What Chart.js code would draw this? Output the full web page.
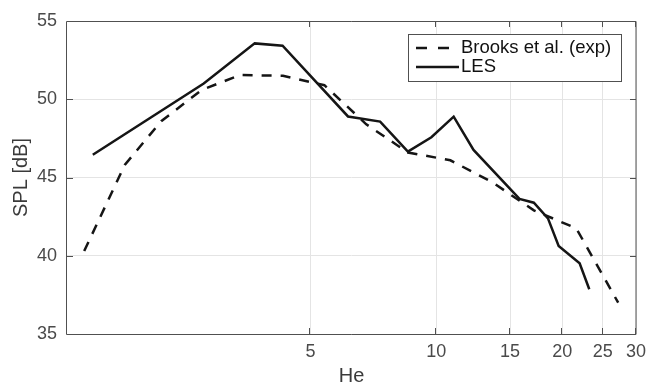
<!DOCTYPE html>
<html>
<head>
<meta charset="utf-8">
<script src="https://cdn.jsdelivr.net/npm/chart.js@4.4.0/dist/chart.umd.min.js"></script>
<style>
  body { margin: 0; background: #fff; }
  canvas { display: block; }
</style>
</head>
<body>
<canvas id="splChart" width="646" height="386"></canvas>
<script>
// values (He = Helmholtz number, SPL in dB)
const brooksHe  = [1.44, 1.80, 2.20, 2.75, 3.40, 4.30, 5.40, 6.80, 8.55, 10.8, 13.6, 17.1, 21.6, 27.2];
const brooksSpl = [40.3, 45.8, 48.6, 50.6, 51.55, 51.5, 50.9, 48.4, 46.6, 46.1, 44.7, 42.9, 41.75, 37.0];
const lesHe  = [1.51, 2.78, 3.68, 4.29, 6.15, 7.34, 8.55, 9.73, 11.0, 12.27, 15.8, 17.1, 18.48, 19.6, 22.0, 23.2];
const lesSpl = [46.45, 51.0, 53.57, 53.42, 48.9, 48.57, 46.65, 47.57, 48.89, 46.76, 43.63, 43.39, 42.39, 40.62, 39.52, 37.86];
const xTicks = [5, 10, 15, 20, 25, 30];
const yTicks = [35, 40, 45, 50, 55];

const fontFamily = '"Liberation Sans", Arial, Helvetica, sans-serif';
const lineColor = '#151515';
const axisColor = '#505050';
const gridColor = '#e4e4e4';
const tickColor = '#4a4a4a';

// MATLAB-like box with inward ticks
const axisBox = {
    id: 'axisBox',
    afterDatasetsDraw(chart) {
        const { ctx, chartArea: a, scales } = chart;
        const len = 6;
        ctx.save();
        ctx.strokeStyle = axisColor;
        ctx.lineWidth = 1;
        ctx.beginPath();
        ctx.rect(a.left - 0.5, a.top + 0.5, a.right - a.left + 0.5, a.bottom - a.top);
        xTicks.forEach(v => {
            const px = Math.round(scales.x.getPixelForValue(v)) - 0.5;
            ctx.moveTo(px, a.bottom); ctx.lineTo(px, a.bottom - len);
            ctx.moveTo(px, a.top); ctx.lineTo(px, a.top + len);
        });
        yTicks.forEach(v => {
            const py = Math.round(scales.y.getPixelForValue(v)) + 0.5;
            ctx.moveTo(a.left, py); ctx.lineTo(a.left + len, py);
            ctx.moveTo(a.right, py); ctx.lineTo(a.right - len, py);
        });
        ctx.stroke();
        ctx.restore();
    }
};

// legend box in the upper right corner
const boxLegend = {
    id: 'boxLegend',
    afterDraw(chart) {
        const { ctx } = chart;
        const sets = chart.data.datasets;
        ctx.save();
        ctx.fillStyle = '#fff';
        ctx.fillRect(408, 35, 213, 46);
        ctx.strokeStyle = axisColor;
        ctx.lineWidth = 1;
        ctx.strokeRect(408.5, 34.5, 213, 47);
        const rows = [48, 67];
        sets.forEach((ds, i) => {
            const y = rows[i];
            ctx.strokeStyle = ds.borderColor;
            ctx.lineWidth = ds.borderWidth;
            ctx.setLineDash(ds.borderDash ? [11, 11] : []);
            ctx.beginPath();
            ctx.moveTo(416, y);
            ctx.lineTo(459, y);
            ctx.stroke();
            ctx.setLineDash([]);
            ctx.fillStyle = '#111';
            ctx.font = '18.5px ' + fontFamily;
            ctx.textBaseline = 'middle';
            ctx.fillText(ds.label, 461, y);
        });
        ctx.restore();
    }
};

const ctx = document.getElementById('splChart').getContext('2d');
new Chart(ctx, {
    type: 'scatter',
    data: {
        datasets: [{
            label: 'Brooks et al. (exp)',
            data: brooksHe.map((he, i) => ({ x: he, y: brooksSpl[i] })),
            showLine: true,
            borderColor: lineColor,
            borderWidth: 2.5,
            borderDash: [10, 9],
            pointRadius: 0,
            fill: false
        }, {
            label: 'LES',
            data: lesHe.map((he, i) => ({ x: he, y: lesSpl[i] })),
            showLine: true,
            borderColor: lineColor,
            borderWidth: 2.5,
            pointRadius: 0,
            fill: false
        }]
    },
    options: {
        responsive: false,
        animation: false,
        devicePixelRatio: 1,
        layout: { padding: { top: 21, right: 0, left: 0, bottom: 0 } },
        plugins: {
            legend: { display: false },
            tooltip: { enabled: false }
        },
        scales: {
            x: {
                type: 'logarithmic',
                min: 1.31,
                max: 30,
                afterBuildTicks: s => { s.ticks = xTicks.map(v => ({ value: v })); },
                afterFit: s => { s.height = 52; s.paddingLeft = 0; s.paddingRight = 10; },
                grid: { color: gridColor, lineWidth: 1, drawTicks: false },
                border: { display: false },
                ticks: {
                    padding: 7,
                    color: tickColor,
                    autoSkip: false,
                    maxRotation: 0,
                    font: { family: fontFamily, size: 18 },
                    callback: v => String(v)
                },
                title: {
                    display: true,
                    text: 'He',
                    color: '#3a3a3a',
                    font: { family: fontFamily, size: 20, lineHeight: 1 },
                    padding: { top: 0, bottom: 0 }
                }
            },
            y: {
                min: 35,
                max: 55,
                afterBuildTicks: s => { s.ticks = yTicks.map(v => ({ value: v })); },
                afterFit: s => { s.width = 67; },
                grid: { color: gridColor, lineWidth: 1, drawTicks: false },
                border: { display: false },
                ticks: {
                    padding: 10,
                    color: tickColor,
                    font: { family: fontFamily, size: 18 }
                },
                title: {
                    display: true,
                    text: 'SPL [dB]',
                    color: '#3a3a3a',
                    font: { family: fontFamily, size: 20, lineHeight: 1 },
                    padding: { top: 11, bottom: 0 }
                }
            }
        }
    },
    plugins: [axisBox, boxLegend]
});
</script>
</body>
</html>
